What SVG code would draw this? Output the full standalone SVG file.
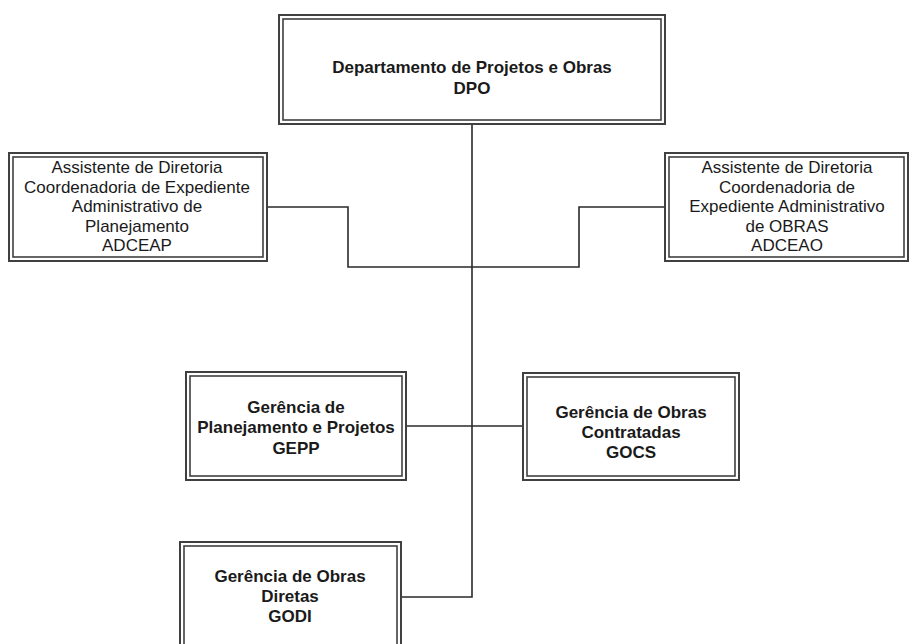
<svg xmlns="http://www.w3.org/2000/svg" width="909" height="644" viewBox="0 0 909 644">
<style>
  .o{fill:#fff;stroke:#404040;stroke-width:2}
  .i{fill:none;stroke:#404040;stroke-width:1.6}
  .c{fill:none;stroke:#2a2a2a;stroke-width:1.6}
  .b{font-family:"Liberation Sans",Arial,sans-serif;font-weight:bold;font-size:17px;fill:#1a1a1a;text-anchor:middle}
  .r{font-family:"Liberation Sans",Arial,sans-serif;font-size:17px;fill:#1a1a1a;text-anchor:middle}
</style>
<rect width="909" height="644" fill="#fff"/>
<g id="connectors">
  <path class="c" d="M472,125 V597 H402"/>
  <path class="c" d="M268,207 H348 V267 H579 V207 H664"/>
  <path class="c" d="M407,426 H522"/>
</g>
<g id="dpo">
  <rect class="o" x="279" y="15" width="386" height="109"/>
  <rect class="i" x="283" y="19" width="378" height="101"/>
  <text class="b" x="472" y="73">Departamento de Projetos e Obras</text>
  <text class="b" x="472" y="94">DPO</text>
</g>
<g id="adceap">
  <rect class="o" x="9" y="153" width="258" height="108"/>
  <rect class="i" x="13" y="157" width="250" height="100"/>
  <text class="r" x="137" y="173">Assistente de Diretoria</text>
  <text class="r" x="137" y="193">Coordenadoria de Expediente</text>
  <text class="r" x="137" y="212">Administrativo de</text>
  <text class="r" x="137" y="232">Planejamento</text>
  <text class="r" x="137" y="251">ADCEAP</text>
</g>
<g id="adceao">
  <rect class="o" x="665" y="153" width="243" height="108"/>
  <rect class="i" x="669" y="157" width="235" height="100"/>
  <text class="r" x="787" y="173">Assistente de Diretoria</text>
  <text class="r" x="787" y="193">Coordenadoria de</text>
  <text class="r" x="787" y="212">Expediente Administrativo</text>
  <text class="r" x="787" y="232">de OBRAS</text>
  <text class="r" x="787" y="251">ADCEAO</text>
</g>
<g id="gepp">
  <rect class="o" x="186" y="372" width="220" height="108"/>
  <rect class="i" x="190" y="376" width="212" height="100"/>
  <text class="b" x="296" y="413">Gerência de</text>
  <text class="b" x="296" y="433">Planejamento e Projetos</text>
  <text class="b" x="296" y="454">GEPP</text>
</g>
<g id="gocs">
  <rect class="o" x="523" y="373" width="216" height="107"/>
  <rect class="i" x="527" y="377" width="208" height="99"/>
  <text class="b" x="631" y="418">Gerência de Obras</text>
  <text class="b" x="631" y="438">Contratadas</text>
  <text class="b" x="631" y="458">GOCS</text>
</g>
<g id="godi">
  <rect class="o" x="180" y="542" width="221" height="120"/>
  <rect class="i" x="184" y="546" width="213" height="112"/>
  <text class="b" x="290" y="582">Gerência de Obras</text>
  <text class="b" x="290" y="602">Diretas</text>
  <text class="b" x="290" y="622">GODI</text>
</g>
</svg>
